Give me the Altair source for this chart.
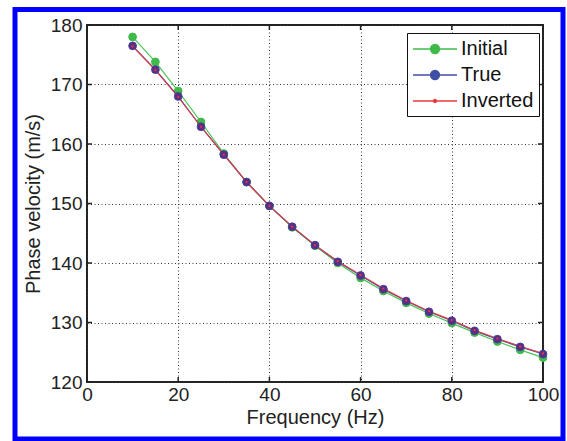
import altair as alt
import pandas as pd

FREQ = [10, 15, 20, 25, 30, 35, 40, 45, 50, 55, 60, 65, 70, 75, 80, 85, 90, 95, 100]
INITIAL = [178.0, 173.8, 168.9, 163.7, 158.4, 153.6, 149.6, 146.0, 142.9, 140.0,
           137.5, 135.3, 133.3, 131.5, 129.9, 128.3, 126.8, 125.4, 124.1]
TRUE = [176.5, 172.5, 168.0, 162.9, 158.2, 153.6, 149.6, 146.1, 143.0, 140.2,
        137.9, 135.6, 133.6, 131.8, 130.3, 128.6, 127.2, 125.9, 124.7]
INVERTED = [176.4, 172.4, 167.9, 162.9, 158.2, 153.6, 149.6, 146.1, 143.0, 140.3,
            138.0, 135.7, 133.7, 131.9, 130.4, 128.7, 127.3, 126.0, 124.8]
SERIES = ["Initial", "True", "Inverted"]
XTICKS = [0, 20, 40, 60, 80, 100]
YTICKS = [120, 130, 140, 150, 160, 170, 180]

GREEN = "#3dba48"
BLUE = "#3f4fa3"
RED = "#e8383d"
PURPLE = "#5c2d84"
FONT = "Liberation Sans"

rows = []
for name, vals in zip(SERIES, [INITIAL, TRUE, INVERTED]):
    for f, v in zip(FREQ, vals):
        rows.append({"freq": f, "vel": v, "series": name})
df = pd.DataFrame(rows)

xs = alt.Scale(domain=[0, 100], nice=False, zero=False)
ys = alt.Scale(domain=[120, 180], nice=False, zero=False)
X = alt.X("freq:Q", scale=xs, axis=alt.Axis(values=XTICKS, title="Frequency (Hz)"))
Y = alt.Y("vel:Q", scale=ys, axis=alt.Axis(values=YTICKS, title="Phase velocity (m/s)"))

base = alt.Chart(df)

def line(name, color, width=1.2):
    return base.transform_filter(alt.datum.series == name).mark_line(
        color=color, strokeWidth=width).encode(x=X, y=Y)

green_line = line("Initial", "#4cc457")
green_pts = base.transform_filter(alt.datum.series == "Initial").mark_circle(
    size=60, fill=GREEN, stroke=GREEN, strokeWidth=1, opacity=1).encode(x=X, y=Y)
blue_line = line("True", BLUE)
blue_pts = base.transform_filter(alt.datum.series == "True").mark_circle(
    size=60, fill=PURPLE, stroke="#44409a", strokeWidth=1, opacity=1).encode(x=X, y=Y)
red_line = line("Inverted", RED, 1.1)
red_pts = base.transform_filter(alt.datum.series == "Inverted").mark_circle(
    size=5, color=RED, opacity=1).encode(x=X, y=Y)

PATH_BIG = "M-1,0L3.4,0M0.75,0A0.45,0.45,0,1,0,1.65,0A0.45,0.45,0,1,0,0.75,0Z"
PATH_SMALL = "M-1,0L3.4,0M1.05,0A0.15,0.15,0,1,0,1.35,0A0.15,0.15,0,1,0,1.05,0Z"

leg = alt.Legend(
    title=None, orient="none", legendX=320, legendY=8,
    labelFont=FONT, labelFontSize=20, labelColor="#111", labelLimit=300,
    symbolSize=400, symbolStrokeWidth=1.3, symbolOpacity=1,
    symbolOffset=0, labelOffset=27, padding=5, rowPadding=5,
    strokeColor="#111", fillColor="white", cornerRadius=0,
)
legend_layer = base.mark_point(opacity=0, filled=True).encode(
    x=X, y=Y,
    fill=alt.Fill("series:N", scale=alt.Scale(domain=SERIES, range=[GREEN, BLUE, RED]), legend=leg),
    stroke=alt.Stroke("series:N", scale=alt.Scale(domain=SERIES, range=[GREEN, BLUE, RED]), legend=leg),
    shape=alt.Shape("series:N", scale=alt.Scale(domain=SERIES, range=[PATH_BIG, PATH_BIG, PATH_SMALL]), legend=leg),
)

xt = pd.DataFrame({"t": XTICKS})
yt = pd.DataFrame({"t": YTICKS})
tick_style = dict(color="#222", strokeWidth=1.5)
xt_bottom = alt.Chart(xt).mark_rule(**tick_style).encode(
    x=alt.X("t:Q", scale=xs), y=alt.value(357), y2=alt.value(352))
xt_top = alt.Chart(xt).mark_rule(**tick_style).encode(
    x=alt.X("t:Q", scale=xs), y=alt.value(0), y2=alt.value(5))
yt_left = alt.Chart(yt).mark_rule(**tick_style).encode(
    y=alt.Y("t:Q", scale=ys), x=alt.value(0), x2=alt.value(5))
yt_right = alt.Chart(yt).mark_rule(**tick_style).encode(
    y=alt.Y("t:Q", scale=ys), x=alt.value(456), x2=alt.value(451))

frame = alt.Chart(pd.DataFrame({"a": [0]})).mark_rect(
    fill=None, stroke="#0000ff", strokeWidth=5).encode(
    x=alt.value(-72), x2=alt.value(476), y=alt.value(-15.5), y2=alt.value(414))

chart = alt.layer(
    xt_bottom, xt_top, yt_left, yt_right,
    green_line, green_pts, blue_line, red_line, blue_pts, red_pts,
    legend_layer, frame,
).properties(
    width=456, height=357,
    padding={"left": 87, "top": 25, "right": 24, "bottom": 59},
    autosize=alt.AutoSizeParams(type="none"),
    background="white",
).configure_view(
    stroke="#222", strokeWidth=2
).configure_axis(
    labelFont=FONT, labelFontSize=19, labelColor="#222", labelFlush=False,
    titleFont=FONT, titleFontSize=20, titleFontWeight="normal", titleColor="#222",
    ticks=False, domain=False,
    grid=True, gridColor="#333", gridDash=[1, 2.5], gridWidth=1, gridOpacity=1,
).configure_axisX(
    labelPadding=3, titlePadding=3,
).configure_axisY(
    labelPadding=5, titlePadding=7,
)

chart.save("out.html", embed_options={"renderer": "svg", "actions": False})
